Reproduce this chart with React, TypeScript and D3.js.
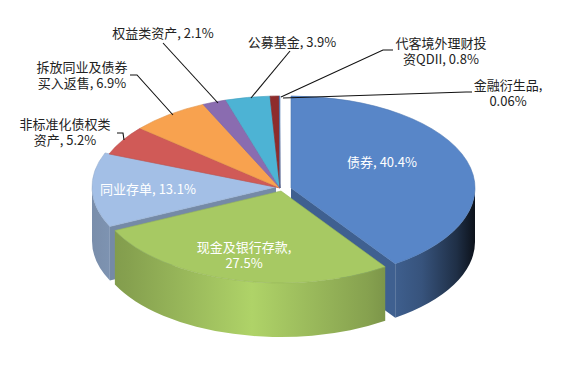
import React from 'react';
import * as d3 from 'd3';

const categories = ['债券', '现金及银行存款', '同业存单', '非标准化债权类资产', '拆放同业及债券买入返售', '权益类资产', '公募基金', '代客境外理财投资QDII', '金融衍生品'];
const values = [40.4, 27.5, 13.1, 5.2, 6.9, 2.1, 3.9, 0.8, 0.06];
const colors = ['#5886C8', '#A7C963', '#A3BFE6', '#D05A57', '#F8A24F', '#8A6CB0', '#4DB3D4', '#8E2C2C', '#5886C8'];
// index in the label text where it wraps onto a second line (null: one line)
const labelBreaks = [null, 8, null, 7, 7, null, null, 7, 6];

// layout
const W = 566, H = 384;
const CX = 280, CY = 188, RX = 184, RY = 92, DEPTH = 54;
const explode: [number, number][] = [[11, 0], [1, 3], [-4, -1], [0, 0], [0, 0], [0, 0], [0, 0], [0, 0], [0, 0]];
const labelPos: [number, number][] = [[382, 167], [244, 252], [148, 194], [65, 129], [82, 72], [163, 38], [292, 47], [441, 48], [508, 90]];
const labelInside = [true, true, true, false, false, false, false, false, false];
const leaders: [number, number][][] = [
  [], [], [],
  [[117, 133], [123, 133], [124, 140]],
  [[130, 75], [137, 75], [173, 115]],
  [[163, 43], [218, 103]],
  [[290, 51], [251, 98]],
  [[393, 50], [383, 50], [281, 97]],
  [[472, 92], [466, 92], [283, 98]],
];

function shade(c: string, k: number) {
  const r = d3.rgb(c);
  return d3.rgb(Math.min(255, r.r * k), Math.min(255, r.g * k), Math.min(255, r.b * k)).formatHex();
}

const wallStops: [number, number][] = [[0, 0.74], [0.1, 0.8], [0.42, 1.05], [0.72, 0.8], [0.86, 0.62], [0.95, 0.35], [1, 0.12]];

export default function App() {
  const pie = d3.pie<number>().sort(null).startAngle(0).endAngle(Math.PI * 2);
  const arcs = pie(values);
  const xs = d3.scaleLinear().domain([-1, 1]).range([-RX, RX]);
  const ys = d3.scaleLinear().domain([-1, 1]).range([-RY, RY]);
  const pt = (i: number, a: number, dz = 0): [number, number] => [
    CX + explode[i][0] + xs(Math.sin(a)),
    CY + explode[i][1] - ys(Math.cos(a)) + dz,
  ];
  const apex = (i: number, dz = 0): [number, number] => [CX + explode[i][0], CY + explode[i][1] + dz];
  const f = (p: [number, number]) => `${p[0].toFixed(2)},${p[1].toFixed(2)}`;

  const radial: JSX.Element[] = [];
  const walls: JSX.Element[] = [];
  const tops: JSX.Element[] = [];

  arcs.forEach((a, i) => {
    const s = a.startAngle, e = a.endAngle;
    const col = colors[i];
    [[s, s - Math.PI / 2], [e, e + Math.PI / 2]].forEach(([ang, nrm], j) => {
      if (-Math.cos(nrm) > 0.05 && (explode[i][0] !== 0 || explode[i][1] !== 0)) {
        const p1 = apex(i), p2 = pt(i, ang), p3 = pt(i, ang, DEPTH), p4 = apex(i, DEPTH);
        radial.push(<path key={`r${i}-${j}`} d={`M${f(p1)}L${f(p2)}L${f(p3)}L${f(p4)}Z`} fill={shade(col, 0.72)} />);
      }
    });
    const ws = Math.max(s, Math.PI / 2), we = Math.min(e, Math.PI * 1.5);
    if (we > ws) {
      const t0 = pt(i, ws), t1 = pt(i, we), b1 = pt(i, we, DEPTH), b0 = pt(i, ws, DEPTH);
      const large = we - ws > Math.PI ? 1 : 0;
      walls.push(
        <path key={`w${i}`} d={`M${f(t0)}A${RX},${RY} 0 ${large} 1 ${f(t1)}L${f(b1)}A${RX},${RY} 0 ${large} 0 ${f(b0)}Z`} fill={`url(#g${i})`} />
      );
    }
    const large = e - s > Math.PI ? 1 : 0;
    tops.push(
      <path key={`t${i}`} d={`M${f(apex(i))}L${f(pt(i, s))}A${RX},${RY} 0 ${large} 1 ${f(pt(i, e))}Z`} fill={col} stroke={shade(col, 0.9)} strokeWidth={0.6} />
    );
  });

  const labels: JSX.Element[] = [];
  arcs.forEach((a, i) => {
    const full = `${categories[i]}, ${values[i]}%`;
    const k = labelBreaks[i];
    const lines = k === null ? [full] : [full.slice(0, k), full.slice(k).trim()];
    const [x, y] = labelPos[i];
    lines.forEach((ln, j) => {
      labels.push(
        <text key={`l${i}-${j}`} x={x} y={y + j * 16} textAnchor="middle" fontSize={13} fill={labelInside[i] ? '#ffffff' : '#222222'} fontFamily="'Noto Sans CJK SC', 'Noto Sans', sans-serif">
          {ln}
        </text>
      );
    });
  });

  return (
    <div style={{ position: 'fixed', left: 0, top: 0 }}>
      <svg width={W} height={H} viewBox={`0 0 ${W} ${H}`} style={{ display: 'block', background: '#fff' }}>
        <defs>
          {colors.map((c, i) => (
            <linearGradient key={i} id={`g${i}`} gradientUnits="userSpaceOnUse" x1={CX - RX - 6} x2={CX + RX + 12} y1={0} y2={0}>
              {wallStops.map(([o, k], j) => (
                <stop key={j} offset={o} stopColor={shade(c, k)} />
              ))}
            </linearGradient>
          ))}
        </defs>
        {radial}
        {walls}
        {tops}
        {leaders.map((pts, i) => pts.length ? (
          <polyline key={`ld${i}`} points={pts.map((p) => p.join(',')).join(' ')} fill="none" stroke="#111" strokeWidth={1.1} />
        ) : null)}
        {labels}
      </svg>
    </div>
  );
}
